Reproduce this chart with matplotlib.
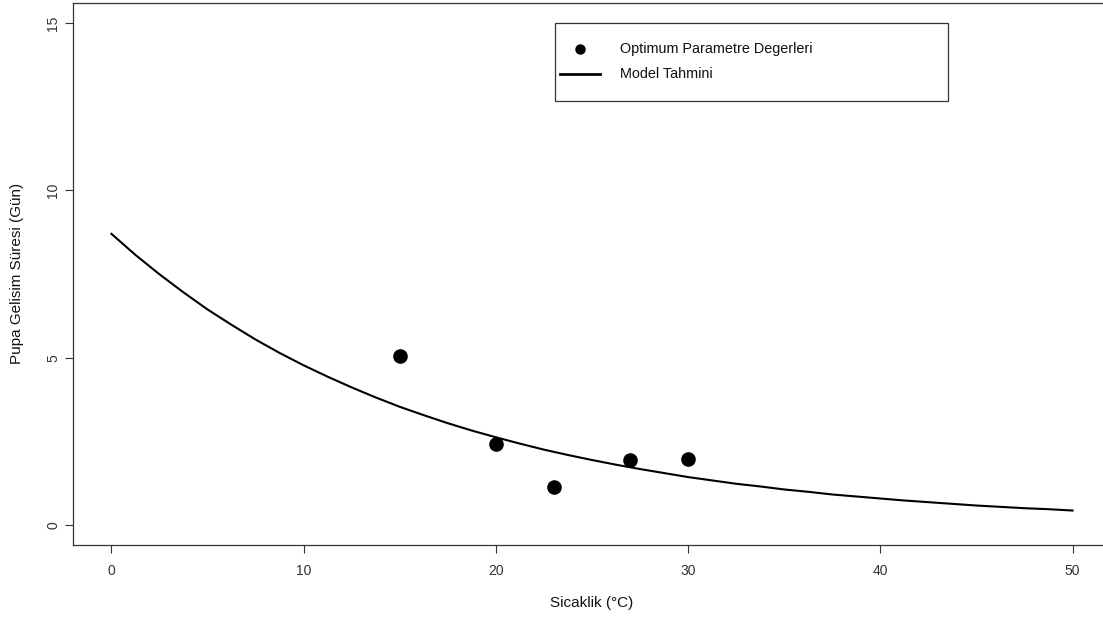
import matplotlib
matplotlib.use("Agg")
import matplotlib.pyplot as plt
from matplotlib.patches import Rectangle
from matplotlib.lines import Line2D

plt.rcParams['font.family'] = ['Liberation Sans', 'DejaVu Sans']

# Observed points
temps = [15, 20, 23, 27, 30]
days = [5.06, 2.43, 1.12, 1.95, 1.97]

# Model curve
model_x = [0, 1.25, 2.5, 3.75, 5, 6.25, 7.5, 8.75, 10, 11.25, 12.5, 13.75, 15,
           16.25, 17.5, 18.75, 20, 21.25, 22.5, 23.75, 25, 26.25, 27.5, 28.75,
           30, 31.25, 32.5, 33.75, 35, 36.25, 37.5, 38.75, 40, 41.25, 42.5,
           43.75, 45, 46.25, 47.5, 48.75, 50]
model_y = [8.70, 8.07, 7.49, 6.95, 6.44, 5.98, 5.54, 5.14, 4.77, 4.43, 4.11,
           3.81, 3.53, 3.28, 3.04, 2.82, 2.62, 2.43, 2.25, 2.09, 1.94, 1.80,
           1.67, 1.55, 1.43, 1.33, 1.23, 1.15, 1.06, 0.99, 0.91, 0.85, 0.79,
           0.73, 0.68, 0.63, 0.58, 0.54, 0.50, 0.47, 0.43]

x_ticks = [0, 10, 20, 30, 40, 50]
y_ticks = [0, 5, 10, 15]
legend_labels = ["Optimum Parametre Degerleri", "Model Tahmini"]
x_label = "Sicaklik (°C)"
y_label = "Pupa Gelisim Süresi (Gün)"

W, H = 1103, 617
fig = plt.figure(figsize=(W / 100, H / 100), dpi=100)

def fx(px):
    return px / W

def fy(py):
    return 1 - py / H

left, right, top, bottom = 73, 1111, 3, 545
ax = fig.add_axes([fx(left), fy(bottom), fx(right - left), (bottom - top) / H])

axcol = '#333333'
ax.plot(model_x, model_y, color='black', lw=1.5, zorder=2)
ax.plot(temps, days, 'o', color='black', ms=9.5, zorder=3)

ax.set_xlim(-2, 52)
ax.set_ylim(-0.6, 15.6)
ax.set_xticks(x_ticks)
ax.set_yticks(y_ticks)
ax.set_xticklabels([str(v) for v in x_ticks])
ax.set_yticklabels([str(v) for v in y_ticks], rotation=90, va='center')
ax.tick_params(axis='both', length=6, width=0.8, color=axcol, labelcolor='#333333',
               labelsize=10)
ax.tick_params(axis='x', pad=7.5)
ax.tick_params(axis='y', pad=3)
for s in ax.spines.values():
    s.set_color(axcol)
    s.set_linewidth(0.9)

fig.text(fx(592), fy(603), x_label, ha='center', va='center', fontsize=11, color='#111111')
fig.text(fx(17), fy(273), y_label, ha='center', va='center', rotation=90,
         fontsize=11, color='#111111')

# Legend box
lx0, lx1, ly0, ly1 = 555, 948, 23, 101
fig.patches.append(Rectangle((fx(lx0), fy(ly1)), fx(lx1 - lx0), (ly1 - ly0) / H,
                             transform=fig.transFigure, fill=False,
                             edgecolor=axcol, lw=0.9))
fig.lines.append(Line2D([fx(580)], [fy(49)], marker='o', ms=6.5, color='black',
                        transform=fig.transFigure, ls='none'))
fig.lines.append(Line2D([fx(560), fx(600)], [fy(74), fy(74)], color='black', lw=2,
                        transform=fig.transFigure))
fig.text(fx(620), fy(49), legend_labels[0], ha='left', va='center', fontsize=10.4, color='#111111')
fig.text(fx(620), fy(74), legend_labels[1], ha='left', va='center', fontsize=10.4, color='#111111')

fig.savefig("out.png", dpi=100)
